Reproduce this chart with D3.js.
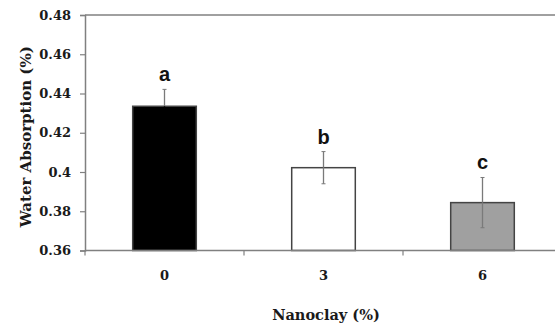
<!DOCTYPE html>
<html><head><meta charset="utf-8">
<script src="https://cdn.jsdelivr.net/npm/d3@7/dist/d3.min.js"></script>
<style>html,body{margin:0;padding:0;background:#fff;}</style>
</head><body>
<svg id="c" width="555" height="326"></svg>
<script>
const categories = ["0", "3", "6"];
const values = [0.4335, 0.4022, 0.3844];
const errors = [0.0086, 0.0082, 0.0128];
const letters = ["a", "b", "c"];
const fills = ["#000000", "#ffffff", "#a0a0a0"];
const yTicks = [0.36, 0.38, 0.40, 0.42, 0.44, 0.46, 0.48];
const yTickLabels = ["0.36", "0.38", "0.4", "0.42", "0.44", "0.46", "0.48"];

(function () {
const svg = d3.select("#c");
const pL = 85, pR = 562, pT = 15, pB = 250.5;
const serif = "'DejaVu Serif', serif";
const axisCol = "#808080";

const x = d3.scaleBand().domain(categories).range([pL, pR]).paddingInner(0.6).paddingOuter(0.3);
const y = d3.scaleLinear().domain([0.36, 0.48]).range([pB, pT]);

svg.append("line").attr("x1", pL).attr("x2", 555).attr("y1", pT).attr("y2", pT)
  .attr("stroke", axisCol).attr("stroke-width", 1.5);

const ya = svg.append("g").attr("transform", `translate(${pL},0)`)
  .call(d3.axisLeft(y).tickValues(yTicks).tickSize(5).tickPadding(9)
    .tickFormat((d, i) => yTickLabels[i]));
ya.select(".domain").attr("stroke", axisCol).attr("stroke-width", 1.5);
ya.selectAll(".tick line").attr("stroke", axisCol).attr("stroke-width", 1.2);
ya.selectAll(".tick text").attr("font-family", serif).attr("font-weight", "bold")
  .attr("font-size", 13).attr("fill", "#1a1a1a");

svg.selectAll("rect.bar").data(values).enter().append("rect")
  .attr("x", (d, i) => x(categories[i]))
  .attr("width", x.bandwidth())
  .attr("y", d => y(d))
  .attr("height", d => pB - y(d))
  .attr("fill", (d, i) => fills[i])
  .attr("stroke", "#444").attr("stroke-width", 1.5);

svg.append("line").attr("x1", pL).attr("x2", 555).attr("y1", pB).attr("y2", pB)
  .attr("stroke", axisCol).attr("stroke-width", 1.5);
const step = x.step();
d3.range(categories.length + 1).forEach(i => {
  const xx = pL + i * step;
  svg.append("line").attr("x1", xx).attr("x2", xx).attr("y1", pB).attr("y2", pB + 5)
    .attr("stroke", axisCol).attr("stroke-width", 1.2);
});

svg.selectAll("text.xl").data(categories).enter().append("text")
  .attr("x", d => x(d) + x.bandwidth() / 2).attr("y", 280)
  .attr("text-anchor", "middle").attr("font-family", serif).attr("font-weight", "bold")
  .attr("font-size", 13).attr("fill", "#1a1a1a").text(d => d);

values.forEach((v, i) => {
  const cx = x(categories[i]) + x.bandwidth() / 2;
  const eCol = "#7a7a7a";
  const lowCol = fills[i] === "#000000" ? "#000" : eCol;
  svg.append("line").attr("x1", cx).attr("x2", cx).attr("y1", y(v)).attr("y2", y(v + errors[i]))
    .attr("stroke", eCol).attr("stroke-width", 1.3);
  svg.append("line").attr("x1", cx).attr("x2", cx).attr("y1", y(v)).attr("y2", y(v - errors[i]))
    .attr("stroke", lowCol).attr("stroke-width", 1.3);
  svg.append("line").attr("x1", cx - 2).attr("x2", cx + 2).attr("y1", y(v + errors[i])).attr("y2", y(v + errors[i]))
    .attr("stroke", eCol).attr("stroke-width", 1);
  svg.append("line").attr("x1", cx - 2).attr("x2", cx + 2).attr("y1", y(v - errors[i])).attr("y2", y(v - errors[i]))
    .attr("stroke", lowCol).attr("stroke-width", 1);
  svg.append("text").attr("x", cx).attr("y", y(v + errors[i]) - 8)
    .attr("text-anchor", "middle").attr("font-family", "'Liberation Sans', Arial, sans-serif")
    .attr("font-weight", "bold").attr("font-size", 20).attr("fill", "#111").text(letters[i]);
});

svg.append("text").attr("x", 326).attr("y", 320)
  .attr("text-anchor", "middle").attr("font-family", serif).attr("font-weight", "bold")
  .attr("font-size", 14.5).attr("fill", "#1a1a1a").text("Nanoclay (%)");
svg.append("text").attr("transform", `translate(31,${(pT + pB) / 2 + 4}) rotate(-90)`)
  .attr("text-anchor", "middle").attr("font-family", serif).attr("font-weight", "bold")
  .attr("font-size", 15).attr("fill", "#1a1a1a").text("Water Absorption (%)");
})();
</script>
</body></html>
